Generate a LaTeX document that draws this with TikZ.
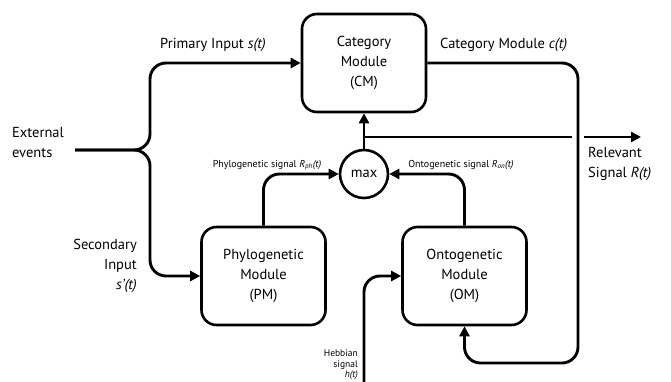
\documentclass[tikz,border=0pt]{standalone}
\usepackage{fontspec}
\setmainfont{PT Sans}
\usetikzlibrary{arrows.meta}
\begin{document}
\begin{tikzpicture}[
  x=1pt, y=-1pt,
  font=\fontsize{14.5}{20}\selectfont,
  module/.style={draw, line width=2.6pt, rounded corners=15pt, minimum width=124pt, minimum height=98pt, align=center},
  junction/.style={draw, circle, line width=2.6pt, minimum size=48pt, inner sep=0pt},
  wire/.style={line width=2.9pt, rounded corners=16pt},
  flow/.style={wire, -{Triangle[length=10pt,width=10pt]}},
  lab/.style={inner sep=0pt},
  small/.style={inner sep=0pt, font=\fontsize{10}{10.5}\selectfont}
]
\useasboundingbox (0,0) rectangle (671,382);

\node[module] (cm) at (364,63) {Category\\Module\\(CM)};
\node[module] (pm) at (263.5,276) {Phylogenetic\\Module\\(PM)};
\node[module] (om) at (464.5,276) {Ontogenetic\\Module\\(OM)};
\node[junction] (max) at (364,174) {max};

\coordinate (evt) at (75,150);
\coordinate (fork) at (150,150);
\coordinate (tap) at (364,137);
\coordinate (gapL) at (572,137);
\coordinate (gapR) at (584,137);
\coordinate (rout) at (641,137);
\coordinate (cbot) at (578,363);
\coordinate (hebb) at (364,382);

\draw[flow] (evt) -- (fork) |- (cm.west);
\draw[flow] (evt) -- (fork) |- (pm.west);
\draw[flow] (pm.north) |- (max.west);
\draw[flow] (om.north) |- (max.east);
\draw[flow] (max.north) -- (cm.south);
\draw[wire] (tap) -- (gapL);
\draw[flow] (gapR) -- (rout);
\draw[flow] (cm.east) -| (cbot) -| (om.south);
\draw[flow] (hebb) |- (om.west);

\node[lab, anchor=west, align=left] (ext) at (12,143) {External\\events};
\node[lab] (pin) at (213,45) {Primary Input \textit{s(t)}};
\node[lab, anchor=west] (cout) at (440,45) {Category Module \textit{c(t)}};
\node[lab, anchor=east, align=right] (sin) at (137,266) {Secondary\\Input\\\textit{s'(t)}};
\node[lab, anchor=west, align=left] (rel) at (588,164) {Relevant\\Signal \textit{R(t)}};
\node[small] (phl) at (267,165) {Phylogenetic signal \textit{R\textsubscript{ph}(t)}};
\node[small] (onl) at (461,165) {Ontogenetic signal \textit{R\textsubscript{on}(t)}};
\node[small, anchor=east, align=right, font=\fontsize{9.5}{10.5}\selectfont] (hbl) at (358,365) {Hebbian\\signal\\\textit{h(t)}};
\end{tikzpicture}
\end{document}
